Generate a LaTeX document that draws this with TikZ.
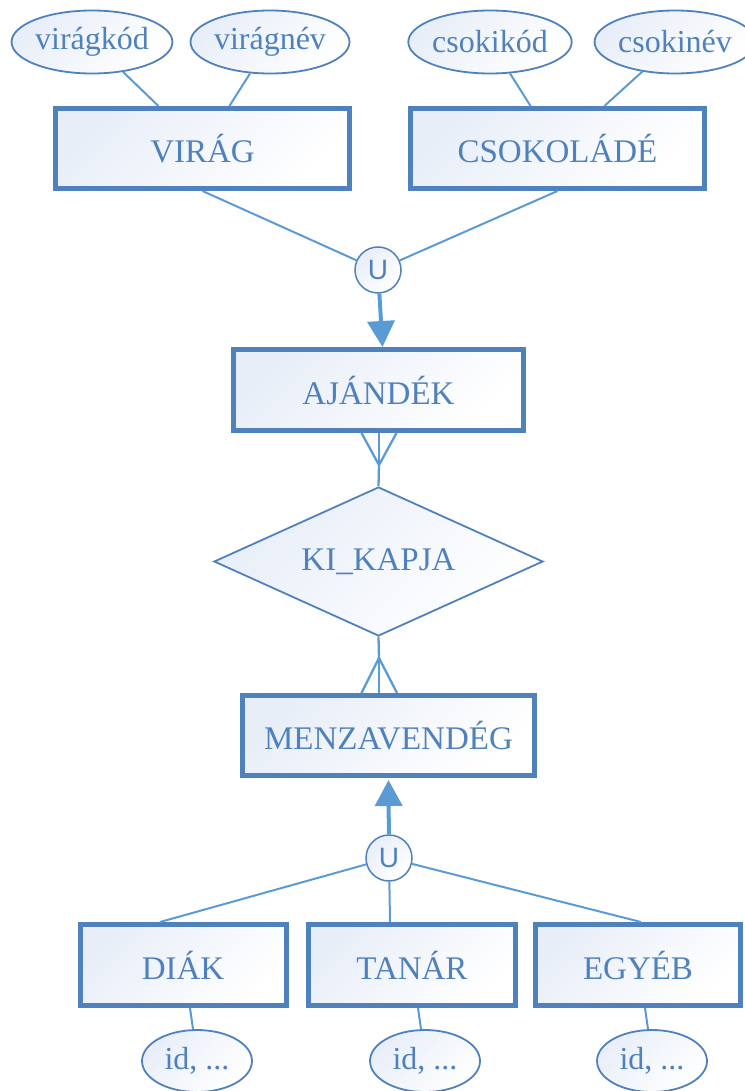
\documentclass[tikz,border=0pt]{standalone}
\usepackage{fontspec}
\setmainfont{Liberation Serif}
\newfontfamily\unionfont{Liberation Sans}
\usetikzlibrary{shapes.geometric,arrows.meta,calc}
\definecolor{edgeblue}{RGB}{79,129,189}
\definecolor{wireblue}{RGB}{91,155,213}
\definecolor{inkblue}{RGB}{79,129,189}
\definecolor{paleblue}{RGB}{232,238,248}
\begin{document}
\begin{tikzpicture}[x=1pt,y=-1pt,
  shaded/.style={top color=paleblue, bottom color=white, shading angle=45},
  entity/.style={shaded, rectangle, draw=edgeblue, line width=5pt,
    minimum height=80pt, inner sep=0pt, text=inkblue,
    font=\fontsize{33}{38}\selectfont},
  attr/.style={shaded, ellipse, draw=edgeblue, line width=1.8pt, inner sep=0pt,
    minimum width=159pt, minimum height=63pt, text=inkblue,
    font=\fontsize{32}{38}\selectfont},
  rel/.style={shaded, diamond, aspect=2.2, draw=edgeblue, line width=1.8pt,
    inner sep=0pt, minimum width=329pt, minimum height=149pt, text=inkblue,
    font=\fontsize{33}{38}\selectfont},
  uni/.style={shaded, circle, draw=edgeblue, line width=1.5pt, minimum size=46pt,
    inner sep=0pt, text=inkblue, font=\unionfont\fontsize{28}{32}\selectfont},
  wire/.style={draw=wireblue, line width=2pt},
  foot/.style={draw=wireblue, line width=2.3pt},
  isa/.style={draw=wireblue, line width=4pt, -{Triangle[length=26pt,width=27pt]}}
]
\useasboundingbox (0,0) rectangle (744,1091);

% attributes of the two gift kinds
\node[attr] (vkod) at (92,42) {virágkód};
\node[attr] (vnev) at (270,42) {virágnév};
\node[attr] (ckod) at (490,42) {csokikód};
\node[attr] (cnev) at (675,42) {csokinév};

% entities
\node[entity, minimum width=294pt] (virag) at (202.5,148.5) {VIRÁG};
\node[entity, minimum width=294pt] (csok) at (557.5,148.5) {CSOKOLÁDÉ};
\node[uni] (u1) at (378,270) {U};
\node[entity, minimum width=290pt, minimum height=81pt] (ajandek) at (378.5,390) {AJÁNDÉK};
\node[rel] (kikapja) at (378.5,561.5) {KI\_KAPJA};
\node[entity, minimum width=292pt] (menza) at (388.5,735.5) {MENZAVENDÉG};
\node[uni] (u2) at (389,858) {U};
\node[entity, minimum width=206pt, minimum height=81pt] (diak) at (183,965) {DIÁK};
\node[entity, minimum width=207pt, minimum height=81pt] (tanar) at (412,965) {TANÁR};
\node[entity, minimum width=205pt, minimum height=81pt] (egyeb) at (638,965) {EGYÉB};

% attributes of the guest kinds
\node[attr, minimum width=110pt, minimum height=62pt] (id1) at (197,1061) {id, ...};
\node[attr, minimum width=110pt, minimum height=62pt] (id2) at (425,1061) {id, ...};
\node[attr, minimum width=110pt, minimum height=62pt] (id3) at (652,1061) {id, ...};

% attribute links
\draw[wire] (vkod) -- (virag);
\draw[wire] (vnev) -- (virag);
\draw[wire] (ckod) -- (csok);
\draw[wire] (cnev) -- (csok);

% union of the gift kinds
\draw[wire] (virag.south) -- (u1);
\draw[wire] (csok.south) -- (u1);
\draw[isa] (u1) -- ([xshift=4pt]ajandek.north);

% many-to-many relationship with crow's feet
\coordinate (cf1) at (379,465);
\coordinate (cf2) at (379,658);
\draw[foot] ([xshift=-17pt]ajandek.south) -- (cf1);
\draw[foot] ([xshift=0.5pt]ajandek.south) -- (cf1);
\draw[foot] ([xshift=18pt]ajandek.south) -- (cf1);
\draw[foot] (cf1) -- (kikapja.north);
\draw[foot] (kikapja.south) -- (cf2);
\draw[foot] (cf2) -- ([xshift=-27pt]menza.north);
\draw[foot] (cf2) -- ([xshift=-9.5pt]menza.north);
\draw[foot] (cf2) -- ([xshift=8.5pt]menza.north);

% union of the guest kinds
\draw[isa] (u2) -- ([yshift=-2pt]menza.south);
\draw[wire] (u2) -- ([xshift=-23pt]diak.north);
\draw[wire] (u2) -- ([xshift=-22pt]tanar.north);
\draw[wire] (u2) -- ([xshift=3pt]egyeb.north);

% guest attributes
\draw[wire] ([xshift=7pt]diak.south) -- ([xshift=-4pt]id1.north);
\draw[wire] ([xshift=6pt]tanar.south) -- ([xshift=-4pt]id2.north);
\draw[wire] ([xshift=7pt]egyeb.south) -- ([xshift=-4pt]id3.north);
\end{tikzpicture}
\end{document}
